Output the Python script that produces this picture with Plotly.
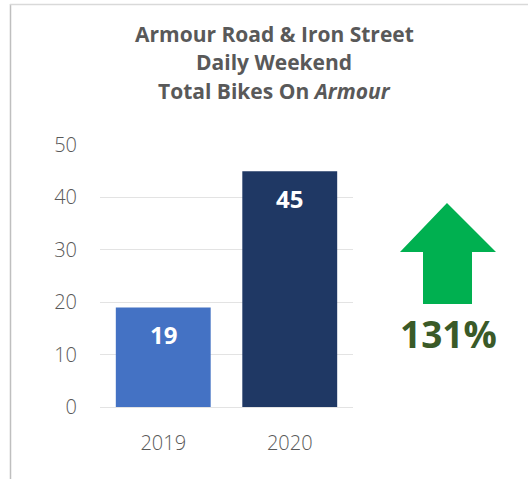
import plotly.graph_objects as go

# Data
years = ["2019", "2020"]
total_bikes = [19, 45]
bar_colors = ["#4472C4", "#1F3864"]
change_label = "131%"
title_lines = [
    "<b>Armour Road &amp; Iron Street</b>",
    "<b>Daily Weekend</b>",
    "<b>Total Bikes On <i>Armour</i></b>",
]
y_ticks = [0, 10, 20, 30, 40, 50]

W, H = 528, 479
L, R, T, B = 100, 175, 145, 72
PW, PH = W - L - R, H - T - B


def px(x):
    return (x - L) / PW


def py(y):
    return (H - B - y) / PH


FONT = "Open Sans"

fig = go.Figure(
    go.Bar(
        x=years,
        y=total_bikes,
        marker=dict(color=bar_colors, line=dict(width=0)),
        hoverinfo="x+y",
    )
)

annotations = []
# title lines
for line, ypx in zip(title_lines, [34, 62, 91]):
    annotations.append(dict(
        text=line, xref="paper", yref="paper", x=px(274), y=py(ypx),
        showarrow=False, xanchor="center", yanchor="middle",
        font=dict(family=FONT, size=21, color="#595959"),
    ))
# value labels inside bar tops (category index used for x)
for i, v in enumerate(total_bikes):
    annotations.append(dict(
        text=f"<b>{v}</b>", x=i, y=v, xref="x", yref="y",
        showarrow=False, yanchor="middle", yshift=-27,
        font=dict(family=FONT, size=24, color="white"),
    ))
# percentage change
annotations.append(dict(
    text=f"<b>{change_label}</b>", xref="paper", yref="paper",
    x=px(448), y=py(333), showarrow=False,
    xanchor="center", yanchor="middle",
    font=dict(family=FONT, size=37, color="#3A5A28"),
))

# up arrow outline (pixel positions converted to paper)
arrow_pts = [(447, 203), (496, 252), (472, 252), (472, 304),
             (423, 304), (423, 252), (400, 252)]
path = "M " + " L ".join(f"{px(a):.4f},{py(b):.4f}" for a, b in arrow_pts) + " Z"

shapes = [
    dict(type="path", path=path, xref="paper", yref="paper",
         fillcolor="#00B050", line=dict(width=0)),
    # card border: left and top edges
    dict(type="line", xref="paper", yref="paper",
         x0=px(10.5), x1=px(10.5), y0=py(4), y1=py(H),
         line=dict(color="#BFBFBF", width=1.5)),
    dict(type="line", xref="paper", yref="paper",
         x0=px(10), x1=px(W), y0=py(4.5), y1=py(4.5),
         line=dict(color="#D9D9D9", width=1.5)),
]

fig.update_layout(
    width=W, height=H,
    margin=dict(l=L, r=R, t=T, b=B, pad=0),
    paper_bgcolor="white", plot_bgcolor="white",
    bargap=0.25,
    showlegend=False,
    annotations=annotations,
    shapes=shapes,
    font=dict(family=FONT, color="#595959"),
)
fig.update_yaxes(
    range=[0, 50], tickvals=y_ticks, showgrid=True, gridcolor="#E3E3E3",
    gridwidth=1, zeroline=False, showline=False,
    tickfont=dict(family=FONT, size=20, color="#595959", weight=300),
    ticklabelstandoff=22,
)
fig.update_xaxes(
    type="category", range=[-0.5, len(years) - 0.5],
    showline=True, linecolor="#E3E3E3", linewidth=1,
    tickfont=dict(family=FONT, size=20, color="#595959", weight=300),
    ticklabelstandoff=18,
)

fig.write_html("out.html")
